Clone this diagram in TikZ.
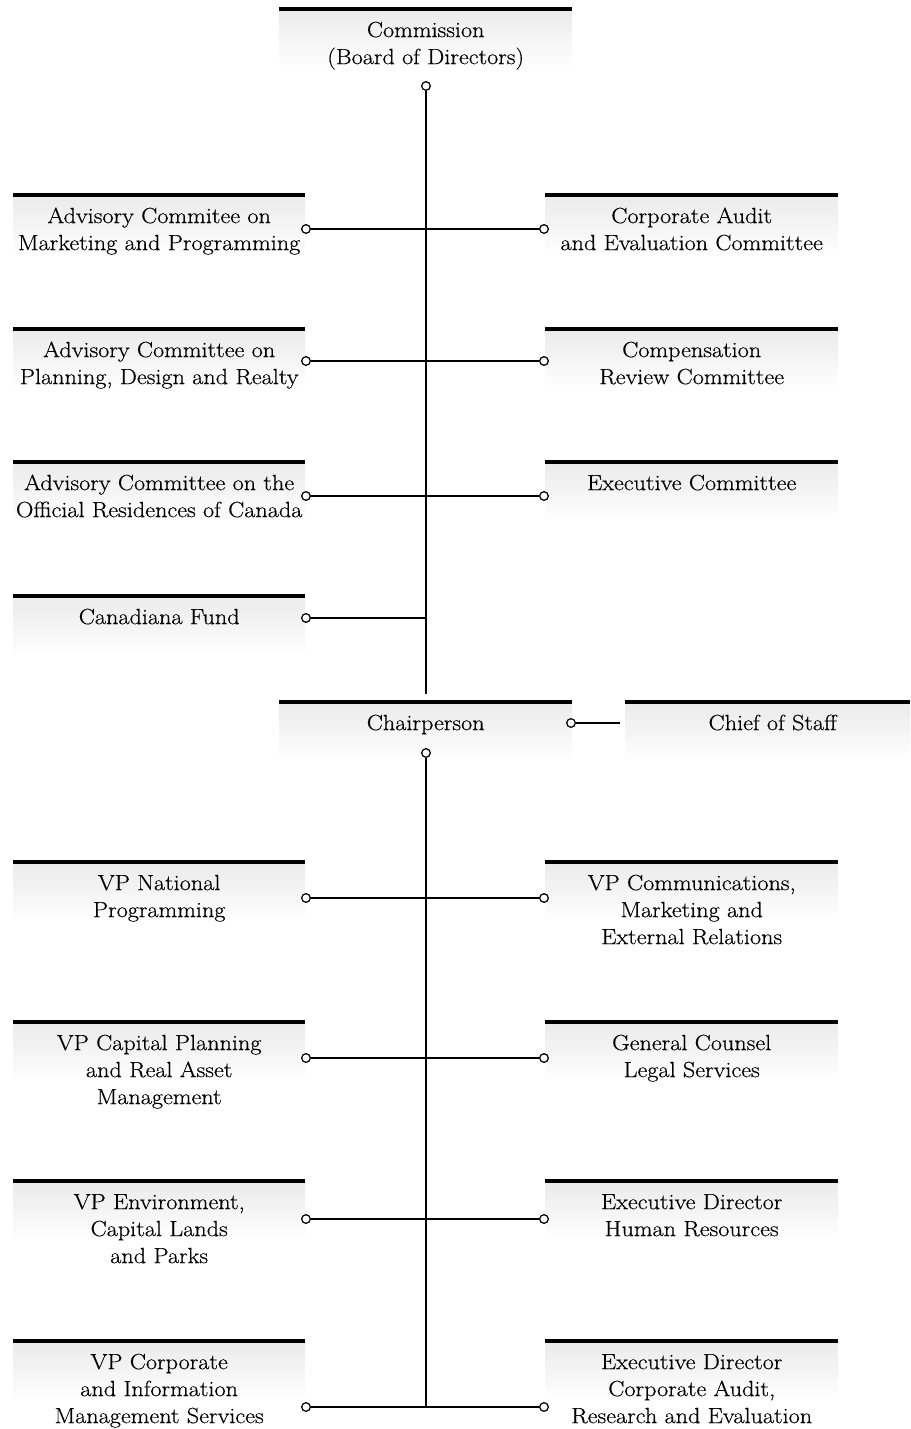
\documentclass[tikz,border=0pt]{standalone}
\usepackage{fontspec}
\setmainfont{Latin Modern Roman}[FakeStretch=1.1,FakeBold=0.4]
\usepackage{tikz}
\begin{document}
\begin{tikzpicture}[x=1pt,y=-1pt,
  orgbox/.style={rectangle,anchor=north west,inner sep=0pt,minimum height=60pt,
    top color=black!8,bottom color=white,draw=none},
  topbar/.style={line width=4pt},
  lbl/.style={anchor=north,inner sep=0pt,align=center,
    font=\fontsize{22}{27}\selectfont},
  conn/.style={line width=1.3pt},
  dot/.style={circle,draw,fill=white,line width=1.1pt,minimum size=8.5pt,inner sep=0pt}]
\useasboundingbox (0,0) rectangle (910,1429);
% boxes
\node[orgbox,minimum width=293pt] (bcom) at (279,9) {};
\node[orgbox,minimum width=292pt] (bl1) at (13,195) {};
\node[orgbox,minimum width=293pt] (br1) at (545,195) {};
\node[orgbox,minimum width=292pt] (bl2) at (13,329) {};
\node[orgbox,minimum width=293pt] (br2) at (545,329) {};
\node[orgbox,minimum width=292pt] (bl3) at (13,462) {};
\node[orgbox,minimum width=293pt] (br3) at (545,462) {};
\node[orgbox,minimum width=292pt] (bl4) at (13,596) {};
\node[orgbox,minimum width=293pt] (bch) at (279,702) {};
\node[orgbox,minimum width=285pt] (bcs) at (625,702) {};
\node[orgbox,minimum width=292pt] (bla) at (13,862) {};
\node[orgbox,minimum width=293pt] (bra) at (545,862) {};
\node[orgbox,minimum width=292pt] (blb) at (13,1022) {};
\node[orgbox,minimum width=293pt] (brb) at (545,1022) {};
\node[orgbox,minimum width=292pt] (blc) at (13,1181) {};
\node[orgbox,minimum width=293pt] (brc) at (545,1181) {};
\node[orgbox,minimum width=292pt] (bld) at (13,1341) {};
\node[orgbox,minimum width=293pt] (brd) at (545,1341) {};
\foreach \b in {bcom,bl1,br1,bl2,br2,bl3,br3,bl4,bch,bcs,bla,bra,blb,brb,blc,brc,bld,brd}
  \draw[topbar] (\b.north west) -- (\b.north east);
% connector dots
\node[dot] (dcom) at (426,86) {};
\node[dot] (dl1) at (306,229) {};
\node[dot] (dr1) at (544,229) {};
\node[dot] (dl2) at (306,361) {};
\node[dot] (dr2) at (544,361) {};
\node[dot] (dl3) at (306,496) {};
\node[dot] (dr3) at (544,496) {};
\node[dot] (dl4) at (306,618) {};
\coordinate (j4) at (426,618);
\coordinate (tend) at (426,694);
\node[dot] (dchr) at (571,723) {};
\coordinate (cse) at (620,723);
\node[dot] (dch) at (426,753) {};
\node[dot] (dla) at (306,898) {};
\node[dot] (dra) at (544,898) {};
\node[dot] (dlb) at (306,1058) {};
\node[dot] (drb) at (544,1058) {};
\node[dot] (dlc) at (306,1219) {};
\node[dot] (drc) at (544,1219) {};
\node[dot] (dld) at (306,1407) {};
\node[dot] (drd) at (544,1407) {};
\coordinate (jd) at (426,1407);
% lines
\draw[conn] (dcom) -- (tend);
\draw[conn] (dl1) -- (dr1);
\draw[conn] (dl2) -- (dr2);
\draw[conn] (dl3) -- (dr3);
\draw[conn] (dl4) -- (j4);
\draw[conn] (dchr) -- (cse);
\draw[conn] (dch) -- (jd);
\draw[conn] (dla) -- (dra);
\draw[conn] (dlb) -- (drb);
\draw[conn] (dlc) -- (drc);
\draw[conn] (dld) -- (drd);
% redraw dots above lines
\foreach \d in {dcom,dl1,dr1,dl2,dr2,dl3,dr3,dl4,dchr,dch,dla,dra,dlb,drb,dlc,drc,dld,drd}
  \node[dot] at (\d) {};
% labels
\node[lbl] (tcom) at ([yshift=-9pt]bcom.north) {\strut Commission\\(Board of Directors)};
\node[lbl] (tl1) at ([yshift=-9pt]bl1.north) {\strut Advisory Commitee on\\Marketing and Programming};
\node[lbl] (tr1) at ([yshift=-9pt]br1.north) {\strut Corporate Audit\\and Evaluation Committee};
\node[lbl] (tl2) at ([yshift=-9pt]bl2.north) {\strut Advisory Committee on\\Planning, Design and Realty};
\node[lbl] (tr2) at ([yshift=-9pt]br2.north) {\strut Compensation\\Review Committee};
\node[lbl] (tl3) at ([yshift=-9pt]bl3.north) {\strut Advisory Committee on the\\Official Residences of Canada};
\node[lbl] (tr3) at ([yshift=-9pt]br3.north) {\strut Executive Committee};
\node[lbl] (tl4) at ([yshift=-9pt]bl4.north) {\strut Canadiana Fund};
\node[lbl] (tch) at ([yshift=-9pt]bch.north) {\strut Chairperson};
\node[lbl] (tcs) at ([xshift=5pt,yshift=-9pt]bcs.north) {\strut Chief of Staff};
\node[lbl] (tla) at ([yshift=-9pt]bla.north) {\strut VP National\\Programming};
\node[lbl] (tra) at ([yshift=-9pt]bra.north) {\strut VP Communications,\\Marketing and\\External Relations};
\node[lbl] (tlb) at ([yshift=-9pt]blb.north) {\strut VP Capital Planning\\and Real Asset\\Management};
\node[lbl] (trb) at ([yshift=-9pt]brb.north) {\strut General Counsel\\Legal Services};
\node[lbl] (tlc) at ([yshift=-9pt]blc.north) {\strut VP Environment,\\Capital Lands\\and Parks};
\node[lbl] (trc) at ([yshift=-9pt]brc.north) {\strut Executive Director\\Human Resources};
\node[lbl] (tld) at ([yshift=-9pt]bld.north) {\strut VP Corporate\\and Information\\Management Services};
\node[lbl] (trd) at ([yshift=-9pt]brd.north) {\strut Executive Director\\Corporate Audit,\\Research and Evaluation};
\end{tikzpicture}
\end{document}
